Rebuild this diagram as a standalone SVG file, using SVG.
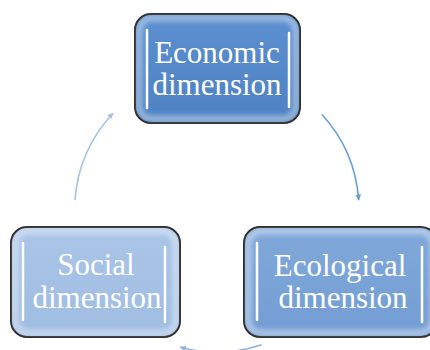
<svg xmlns="http://www.w3.org/2000/svg" width="430" height="350" viewBox="0 0 430 350">
<style>
.box{stroke:#111;stroke-width:2}
.glow{fill:none;stroke:#ffffff;stroke-opacity:0.4;stroke-width:7}
.bar{stroke:#ffffff;stroke-width:2.5;stroke-linecap:round}
.barglow{stroke:#cfe8ff;stroke-width:7;stroke-linecap:round;stroke-opacity:0.85}
.lbl{font-family:"Liberation Serif","Times New Roman",serif;font-size:31px;fill:#ffffff;text-anchor:middle}
.arc{fill:none;stroke-width:1.6}
</style>
<defs>
<linearGradient id="gEco" x1="0" y1="0" x2="0" y2="1">
<stop offset="0" stop-color="#5b8fcf"/><stop offset="1" stop-color="#4f82c2"/>
</linearGradient>
<linearGradient id="gEcol" x1="0" y1="0" x2="0" y2="1">
<stop offset="0" stop-color="#80a8da"/><stop offset="1" stop-color="#739dd3"/>
</linearGradient>
<linearGradient id="gSoc" x1="0" y1="0" x2="0" y2="1">
<stop offset="0" stop-color="#aac5e7"/><stop offset="1" stop-color="#9fbce2"/>
</linearGradient>
<filter id="blur" x="-20%" y="-20%" width="140%" height="140%"><feGaussianBlur stdDeviation="2.5"/></filter>
<filter id="blur2" x="-200%" y="-20%" width="500%" height="140%"><feGaussianBlur stdDeviation="1.8"/></filter>
<marker id="ahR" viewBox="0 0 10 10" refX="8" refY="5" markerWidth="7" markerHeight="7" orient="auto" markerUnits="userSpaceOnUse">
<path d="M0,1 L9,5 L0,9 z" fill="#6a9fd6"/></marker>
<marker id="ahL" viewBox="0 0 10 10" refX="8" refY="5" markerWidth="7" markerHeight="7" orient="auto" markerUnits="userSpaceOnUse">
<path d="M0,1 L9,5 L0,9 z" fill="#a4c2e8"/></marker>
<marker id="ahB" viewBox="0 0 10 10" refX="8" refY="5" markerWidth="7" markerHeight="7" orient="auto" markerUnits="userSpaceOnUse">
<path d="M0,1 L9,5 L0,9 z" fill="#8db4e2"/></marker>
</defs>
<g id="connectors">
<path class="arc" stroke="#6a9fd6" marker-end="url(#ahR)" d="M321.8,114.2 A142,142 0 0 1 358.7,200.1"/>
<path class="arc" stroke="#8db4e2" marker-end="url(#ahB)" d="M261.6,344.8 A142,142 0 0 1 180.2,347.2"/>
<path class="arc" stroke="#a4c2e8" marker-end="url(#ahL)" d="M75,200 A142,142 0 0 1 113.1,113.2"/>
</g>
<g id="economic">
<rect class="box" x="135" y="14" width="165" height="109" rx="16" fill="url(#gEco)"/>
<rect class="glow" x="139" y="18" width="157" height="101" rx="13" filter="url(#blur)"/>
<line class="barglow" x1="147" y1="30" x2="147" y2="108" filter="url(#blur2)"/>
<line class="barglow" x1="289" y1="33" x2="289" y2="107" filter="url(#blur2)"/>
<line class="bar" x1="147" y1="30" x2="147" y2="108"/>
<line class="bar" x1="289" y1="33" x2="289" y2="107"/>
<text class="lbl" x="217" y="63">Economic</text>
<text class="lbl" x="217" y="95">dimension</text>
</g>
<g id="social">
<rect class="box" x="11" y="227" width="169" height="110" rx="16" fill="url(#gSoc)"/>
<rect class="glow" x="15" y="231" width="161" height="102" rx="13" filter="url(#blur)"/>
<line class="barglow" x1="23" y1="243" x2="23" y2="320" filter="url(#blur2)"/>
<line class="barglow" x1="165" y1="247" x2="165" y2="322" filter="url(#blur2)"/>
<line class="bar" x1="23" y1="243" x2="23" y2="320"/>
<line class="bar" x1="165" y1="247" x2="165" y2="322"/>
<text class="lbl" x="96" y="275">Social</text>
<text class="lbl" x="97" y="308">dimension</text>
</g>
<g id="ecological">
<rect class="box" x="244" y="227" width="193" height="110" rx="16" fill="url(#gEcol)"/>
<rect class="glow" x="248" y="231" width="185" height="102" rx="13" filter="url(#blur)"/>
<line class="barglow" x1="257" y1="243" x2="257" y2="320" filter="url(#blur2)"/>
<line class="barglow" x1="422" y1="247" x2="422" y2="322" filter="url(#blur2)"/>
<line class="bar" x1="257" y1="243" x2="257" y2="320"/>
<line class="bar" x1="422" y1="247" x2="422" y2="322"/>
<text class="lbl" x="340" y="276">Ecological</text>
<text class="lbl" x="343" y="308">dimension</text>
</g>
</svg>
